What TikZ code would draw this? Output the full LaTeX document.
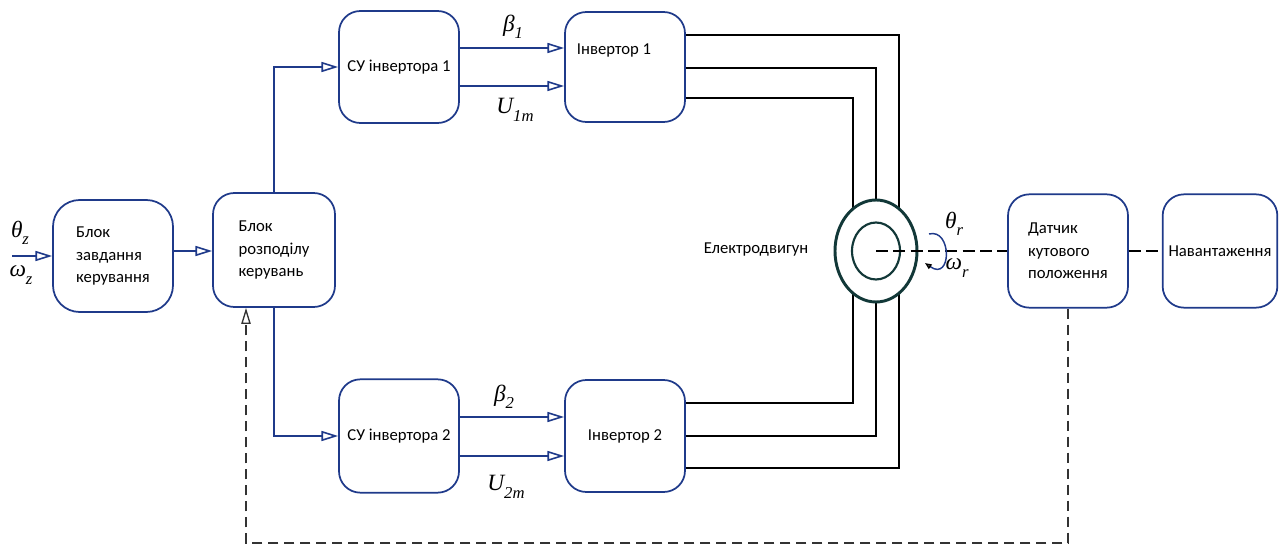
\documentclass[tikz,border=0pt]{standalone}
\usepackage{fontspec}
\setmainfont{Carlito}
\newfontfamily\timesit{Liberation Serif}[ItalicFont=* Italic]
\usetikzlibrary{arrows.meta,shapes.geometric,backgrounds}
\definecolor{bl}{HTML}{1F3A8A}
\definecolor{motc}{HTML}{123838}
\definecolor{dg}{HTML}{333333}
\newcommand\lsub[1]{\raisebox{-0.32em}{\fontsize{12.5}{13}\selectfont #1}}
\begin{document}
\begin{tikzpicture}[x=0.75pt,y=-0.75pt,
  box/.style={draw=bl, line width=1.3pt, rounded corners=16pt, fill=white,
    font=\fontsize{12.5}{17}\selectfont, align=left, inner sep=0pt,
    minimum width=90pt, minimum height=84pt},
  txt/.style={font=\fontsize{12.5}{17}\selectfont, inner sep=0pt},
  mlab/.style={font=\timesit\itshape\fontsize{17.5}{19}\selectfont, inner sep=0pt},
  arr/.style={draw=bl, line width=1.2pt, -{Triangle[open,length=12.5pt,width=7.5pt,line width=1.2pt]}},
  wire/.style={draw=black, line width=0.9pt},
  shaft/.style={draw=black, line width=1.2pt, dash pattern=on 9pt off 4pt},
  fb/.style={draw=dg, line width=1pt, dash pattern=on 8pt off 4pt}
]
\useasboundingbox (0,0) rectangle (1288,545);

% boxes
\node[box, rounded corners=20pt] (zav) at (113,256) {Блок\\завдання\\керування};
\node[box, minimum width=91.5pt, minimum height=85.5pt] (dist) at (274,250) {Блок\\розподілу\\керувань};
\node[box] (su1) at (399,67) {СУ інвертора 1};
\node[box, minimum height=85pt] (su2) at (399,436) {СУ інвертора 2};
\node[box, minimum height=82.5pt] (inv1) at (625,67) {};
\node[txt] (inv1t) at (614,50) {Інвертор 1};
\node[box] (inv2) at (625,436) {Інвертор 2};
\node[box, minimum height=85pt] (sens) at (1068,251) {Датчик\\кутового\\положення};
\node[box, minimum width=86pt, minimum height=85pt] (load) at (1220,251) {Навантаження};

% motor
\node[draw=motc, line width=2.2pt, fill=white, ellipse, inner sep=0pt,
      minimum width=61.5pt, minimum height=76.5pt] (motor) at (876,251) {};
\node[draw=motc, line width=1.6pt, ellipse, inner sep=0pt,
      minimum width=36pt, minimum height=42.75pt] (motin) at (876,251) {};
\node[txt] (motl) at (756,250) {Електродвигун};

% wires (behind motor)
\begin{scope}[on background layer]
\draw[wire] ([yshift=24pt]inv1.east) -| ([xshift=17.25pt]motor.center);
\draw[wire] ([yshift=-0.75pt]inv1.east) -| (motor.center);
\draw[wire] ([yshift=-23.25pt]inv1.east) -| ([xshift=-17.25pt]motor.center);
\draw[wire] ([yshift=24.75pt]inv2.east) -| ([xshift=-17.25pt]motor.center);
\draw[wire] (inv2.east) -| (motor.center);
\draw[wire] ([yshift=-24pt]inv2.east) -| ([xshift=17.25pt]motor.center);
\end{scope}

% signal arrows
\coordinate (in) at (12,256);
\draw[arr] (in) -- (zav.west);
\draw[arr] (zav.east |- 0,251) -- (dist.west |- 0,251);
\draw[arr] (dist.north) |- (su1.west);
\draw[arr] (dist.south) |- (su2.west);
\draw[arr] ([yshift=14.25pt]su1.east) -- ([yshift=14.25pt]su1.east -| inv1.west);
\draw[arr] ([yshift=-14.25pt]su1.east) -- ([yshift=-14.25pt]su1.east -| inv1.west);
\draw[arr] ([yshift=14.25pt]su2.east) -- ([yshift=14.25pt]su2.east -| inv2.west);
\draw[arr] ([yshift=-15pt]su2.east) -- ([yshift=-15pt]su2.east -| inv2.west);

% shaft
\draw[shaft] (motor.center) -- (sens.west);
\draw[shaft] (sens.east) -- (load.west);

% feedback
\coordinate (fbl) at (246,543);
\draw[fb, -{Triangle[open,length=12pt,width=7pt,line width=1pt]}] (sens.south) |- (fbl) -- (fbl |- dist.south);

% rotation
\draw[bl, line width=1.1pt, -{Triangle[open,black,length=5pt,width=4pt]}]
  (929,234) .. controls (952,228) and (952,282) .. (925,263);

% labels
\node[mlab] (thz) at (20,233) {θ\lsub{z}};
\node[mlab] (omz) at (21,275) {ω\lsub{z}};
\node[mlab] (b1) at (513,27) {β\lsub{1}};
\node[mlab] (u1) at (515,110) {U\lsub{1m}};
\node[mlab] (b2) at (504,397) {β\lsub{2}};
\node[mlab] (u2) at (506,487) {U\lsub{2m}};
\node[mlab] (thr) at (954,224) {θ\lsub{r}};
\node[mlab] (omr) at (957,268) {ω\lsub{r}};
\end{tikzpicture}
\end{document}
